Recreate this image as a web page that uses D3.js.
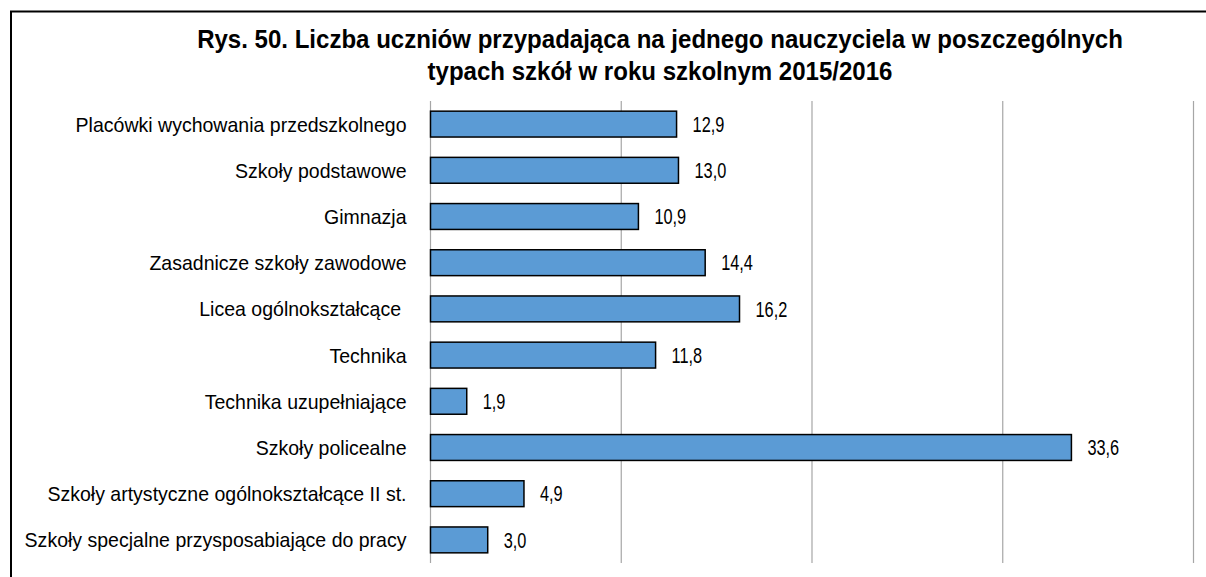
<!DOCTYPE html>
<html>
<head>
<meta charset="utf-8">
<script src="https://cdn.jsdelivr.net/npm/d3@7"></script>
<style>
  html, body { margin: 0; padding: 0; background: #fff; }
  svg { display: block; font-family: "Liberation Sans", Arial, sans-serif; }
</style>
</head>
<body>
<svg id="chart" width="1206" height="577"></svg>
<script>
const titleLines = [
  "Rys. 50. Liczba uczniów przypadająca na jednego nauczyciela w poszczególnych",
  "typach szkół w roku szkolnym 2015/2016"
];
const categories = [
  "Placówki wychowania przedszkolnego",
  "Szkoły podstawowe",
  "Gimnazja",
  "Zasadnicze szkoły zawodowe",
  "Licea ogólnokształcące ",
  "Technika",
  "Technika uzupełniające",
  "Szkoły policealne",
  "Szkoły artystyczne ogólnokształcące II st.",
  "Szkoły specjalne przysposabiające do pracy"
];
const values = [12.9, 13.0, 10.9, 14.4, 16.2, 11.8, 1.9, 33.6, 4.9, 3.0];
const gridTicks = [0, 10, 20, 30, 40];

const svg = d3.select("#chart");

// outer frame
svg.append("rect")
  .attr("x", 11).attr("y", 11.5)
  .attr("width", 1210).attr("height", 600)
  .attr("fill", "none").attr("stroke", "#000").attr("stroke-width", 2);

// title (slightly condensed face)
const titleSx = 0.925;
svg.append("g").selectAll("text").data(titleLines).join("text")
  .attr("transform", (d, i) => `translate(660,${48 + i * 32}) scale(${titleSx},1)`)
  .attr("text-anchor", "middle")
  .attr("font-size", 26).attr("font-weight", "bold")
  .attr("fill", "#000")
  .text(d => d);

const x = d3.scaleLinear().domain([0, 40]).range([430.5, 1193.5]);
const y = d3.scaleBand().domain(categories).range([101, 563]).paddingInner(0.44).paddingOuter(0.22);

// vertical gridlines
svg.append("g").selectAll("line").data(gridTicks).join("line")
  .attr("x1", d => x(d)).attr("x2", d => x(d))
  .attr("y1", 101).attr("y2", 563)
  .attr("stroke", "#a6a6a6").attr("stroke-width", 1.2);

// bars
svg.append("g").selectAll("rect").data(values).join("rect")
  .attr("x", x(0))
  .attr("y", (d, i) => y(categories[i]))
  .attr("width", d => x(d) - x(0))
  .attr("height", y.bandwidth())
  .attr("fill", "#5b9bd5")
  .attr("stroke", "#000").attr("stroke-width", 1.5);

// value labels
const valSx = 0.76;
svg.append("g").selectAll("text").data(values).join("text")
  .attr("transform", (d, i) =>
    `translate(${x(d) + 16},${y(categories[i]) + y.bandwidth() / 2}) scale(${valSx},1)`)
  .attr("dy", "0.36em")
  .attr("font-size", 21.5)
  .attr("fill", "#000")
  .text(d => d3.format(".1f")(d).replace(".", ","));

// category labels
const catSx = 0.93;
const yAxis = d3.axisLeft(y).tickSize(0).tickPadding(0);
const ya = svg.append("g").attr("transform", `translate(${x(0)},0)`).call(yAxis);
ya.select(".domain").remove();
ya.selectAll("text")
  .attr("x", 0)
  .attr("dy", "0.36em")
  .attr("transform", `translate(-24,0) scale(${catSx},1)`)
  .attr("font-size", 21)
  .attr("font-family", "'Liberation Sans', Arial, sans-serif")
  .style("white-space", "pre")
  .attr("fill", "#000");
</script>
</body>
</html>
